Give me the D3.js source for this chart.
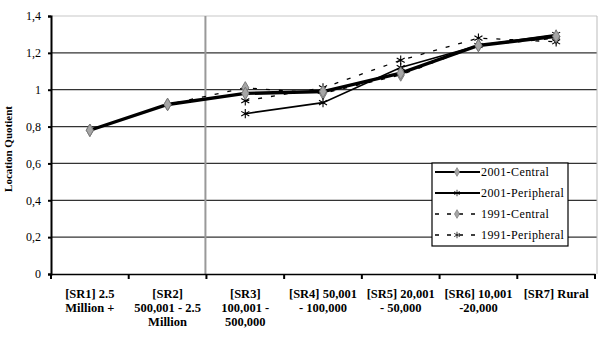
<!DOCTYPE html>
<html>
<head>
<meta charset="utf-8">
<script src="https://cdn.jsdelivr.net/npm/d3@7"></script>
<style>
  body { margin: 0; background: #fff; }
  text { font-family: "Liberation Serif", "DejaVu Serif", serif; }
</style>
</head>
<body>
<div id="chart"></div>
<script>
// categories (lines of each wrapped label)
const categories = ["SR1", "SR2", "SR3", "SR4", "SR5", "SR6", "SR7"];
const categoryLabels = [
    ["[SR1] 2.5", "Million +"],
    ["[SR2]", "500,001 - 2.5", "Million"],
    ["[SR3]", "100,001 -", "500,000"],
    ["[SR4] 50,001", "- 100,000"],
    ["[SR5] 20,001", "- 50,000"],
    ["[SR6] 10,001", "-20,000"],
    ["[SR7] Rural"]
];

const central2001    = [0.78, 0.92, 0.98, 0.99, 1.09, 1.24, 1.29];
const peripheral2001 = [null, null, 0.87, 0.93, 1.12, 1.24, 1.30];
const central1991    = [0.78, 0.92, 1.01, 0.98, 1.08, 1.24, 1.28];
const peripheral1991 = [null, null, 0.94, 1.01, 1.16, 1.28, 1.26];

const yTicks = [0, 0.2, 0.4, 0.6, 0.8, 1, 1.2, 1.4];
const yTickLabels = ["0", "0,2", "0,4", "0,6", "0,8", "1", "1,2", "1,4"];

const series = [
    {name: "1991-Central", values: central1991, width: 1.3, dash: "4,9", marker: "diamond"},
    {name: "1991-Peripheral", values: peripheral1991, width: 1.3, dash: "4,9", marker: "star"},
    {name: "2001-Peripheral", values: peripheral2001, width: 1.6, dash: null, marker: "star"},
    {name: "2001-Central", values: central2001, width: 3.4, dash: null, marker: "diamond"}
];
const legendOrder = ["2001-Central", "2001-Peripheral", "1991-Central", "1991-Peripheral"];

const margin = {top: 16, right: 6, bottom: 64, left: 51},
    width = 595 - margin.left,
    height = 274 - margin.top;

const svg = d3.select("#chart")
    .append("svg")
    .attr("width", 601).attr("height", 338)
    .append("g")
    .attr("transform", `translate(${margin.left},${margin.top})`);

const x = d3.scaleBand()
    .domain(categories)
    .range([0, width]);

const y = d3.scaleLinear()
    .domain([0, 1.4])
    .range([height, 0]);

// grid
svg.append("g")
    .selectAll("line")
    .data(yTicks.filter(d => d > 0))
    .join("line")
    .attr("x1", 0).attr("x2", width + 2)
    .attr("y1", d => y(d)).attr("y2", d => y(d))
    .attr("stroke", d => d === 1.4 ? "#c8c8c8" : "#333")
    .attr("stroke-width", 1.2);

// right border
svg.append("line")
    .attr("x1", width + 2).attr("x2", width + 2)
    .attr("y1", 0).attr("y2", height)
    .attr("stroke", "#bbb");

// vertical divider between SR2 and SR3
svg.append("line")
    .attr("x1", x("SR3") - 1).attr("x2", x("SR3") - 1)
    .attr("y1", 0).attr("y2", height)
    .attr("stroke", "#999")
    .attr("stroke-width", 2);

// y axis
const yAxis = svg.append("g")
    .call(d3.axisLeft(y).tickValues(yTicks).tickFormat((d, i) => yTickLabels[i]).tickSize(3));
yAxis.select(".domain").attr("stroke", "#000").attr("stroke-width", 2);
yAxis.selectAll(".tick line").attr("stroke", "#000").attr("stroke-width", 2);
yAxis.selectAll("text")
    .attr("x", -10)
    .style("font-size", "12px")
    .style("font-family", "Liberation Serif, serif");

// x axis
const xAxis = svg.append("g")
    .attr("transform", `translate(0,${height})`)
    .call(d3.axisBottom(x).tickValues([]).tickSizeOuter(0));
xAxis.select(".domain").attr("stroke", "#000").attr("stroke-width", 1.5);
xAxis.selectAll(".bound")
    .data(d3.range(categories.length + 1))
    .join("line")
    .attr("x1", i => i * x.bandwidth()).attr("x2", i => i * x.bandwidth())
    .attr("y1", 0).attr("y2", 5)
    .attr("stroke", "#000").attr("stroke-width", 2);

const xl = svg.append("g")
    .selectAll("text")
    .data(categories)
    .join("text")
    .attr("text-anchor", "middle")
    .attr("font-weight", "bold")
    .attr("font-size", "12.5px")
    .attr("y", height + 24);
xl.each(function(d, i) {
    d3.select(this).selectAll("tspan")
        .data(categoryLabels[i])
        .join("tspan")
        .attr("x", x(d) + x.bandwidth() / 2)
        .attr("dy", (t, j) => j === 0 ? 0 : 14)
        .text(t => t);
});

// y title
svg.append("text")
    .attr("transform", `translate(${12 - margin.left},${149 - margin.top}) rotate(-90)`)
    .attr("text-anchor", "middle")
    .attr("font-weight", "bold")
    .attr("font-size", "11px")
    .text("Location Quotient");

const starSym = d3.symbolAsterisk || d3.symbolCross;

function drawMarker(g, type, cx, cy) {
    if (type === "diamond") {
        g.append("path")
            .attr("transform", `translate(${cx},${cy})`)
            .attr("d", d3.symbol(d3.symbolDiamond, 45)())
            .attr("fill", "#a6a6a6")
            .attr("stroke", "#7a7a7a")
            .attr("stroke-width", 1);
    } else {
        g.append("path")
            .attr("transform", `translate(${cx},${cy})`)
            .attr("d", d3.symbol(starSym, 60)())
            .attr("fill", "none")
            .attr("stroke", "#000")
            .attr("stroke-width", 1.1);
    }
}

const line = d3.line()
    .defined(d => d.v !== null)
    .x(d => x(d.c) + x.bandwidth() / 2)
    .y(d => y(d.v));

series.forEach(s => {
    const pts = categories.map((c, i) => ({c: c, v: s.values[i]}));
    svg.append("path")
        .datum(pts)
        .attr("fill", "none")
        .attr("stroke", "#000")
        .attr("stroke-width", s.width)
        .attr("stroke-dasharray", s.dash)
        .attr("d", line);
    const mg = svg.append("g");
    pts.filter(p => p.v !== null).forEach(p => {
        drawMarker(mg, s.marker, x(p.c) + x.bandwidth() / 2, y(p.v));
    });
});

// legend
const lg = svg.append("g")
    .attr("transform", `translate(${432 - margin.left},${163 - margin.top})`);
lg.append("rect")
    .attr("width", 136).attr("height", 83)
    .attr("fill", "#fff")
    .attr("stroke", "#000")
    .attr("stroke-width", 1.2);
legendOrder.forEach((name, i) => {
    const s = series.find(d => d.name === name);
    const ly = 9 + i * 21;
    lg.append("line")
        .attr("x1", 3).attr("x2", 48)
        .attr("y1", ly).attr("y2", ly)
        .attr("stroke", "#000")
        .attr("stroke-width", s.dash ? 1.3 : 2)
        .attr("stroke-dasharray", s.dash ? "4,8" : null);
    const mk = lg.append("g");
    drawMarker(mk, s.marker, 25, ly);
    mk.attr("transform", `translate(${25 * 0.3},${ly * 0.3}) scale(0.7)`);
    lg.append("text")
        .attr("x", 49).attr("y", ly + 4)
        .attr("font-size", "12px")
        .attr("letter-spacing", "0.4px")
        .text(name);
});
</script>
</body>
</html>
